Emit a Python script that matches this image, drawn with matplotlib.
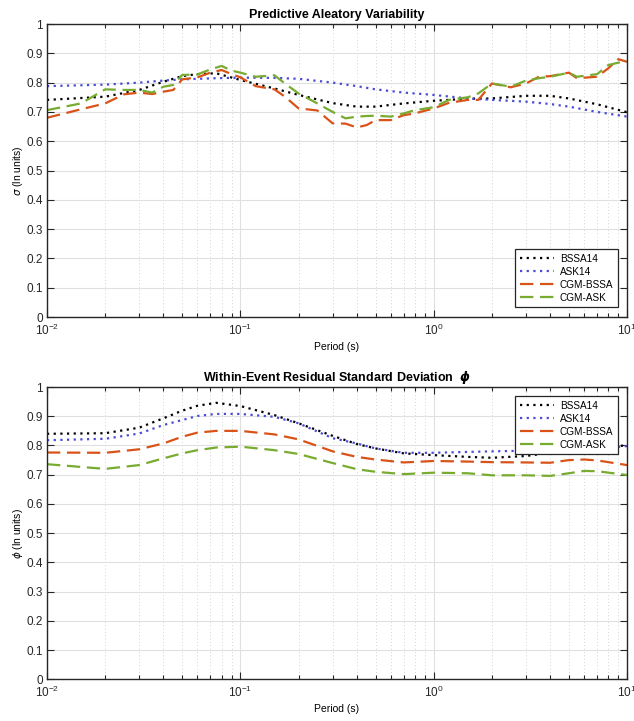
import numpy as np
import matplotlib
matplotlib.use('Agg')
import matplotlib.pyplot as plt
from matplotlib.ticker import LogLocator, NullFormatter

plt.rcParams['font.family'] = ['Liberation Sans', 'DejaVu Sans']
plt.rcParams['mathtext.fontset'] = 'dejavusans'

# ---- top panel: total sigma ----
period_top = [0.01, 0.02, 0.03, 0.04, 0.05, 0.06, 0.075, 0.1, 0.15, 0.2, 0.3,
              0.4, 0.5, 0.7, 1, 1.5, 2, 3, 4, 5, 7, 10]
bssa_sigma = [0.741, 0.752, 0.775, 0.803, 0.822, 0.829, 0.832, 0.809, 0.780, 0.758, 0.730,
              0.718, 0.718, 0.729, 0.738, 0.745, 0.746, 0.755, 0.755, 0.746, 0.726, 0.699]
ask_sigma = [0.788, 0.793, 0.800, 0.807, 0.811, 0.813, 0.815, 0.817, 0.816, 0.813, 0.800,
             0.788, 0.777, 0.766, 0.758, 0.746, 0.741, 0.735, 0.727, 0.718, 0.700, 0.684]

period_cgm = [0.01, 0.015, 0.02, 0.025, 0.03, 0.035, 0.04, 0.045, 0.05, 0.06, 0.07, 0.08,
              0.09, 0.1, 0.12, 0.15, 0.17, 0.2, 0.25, 0.3, 0.35, 0.4, 0.45, 0.5, 0.6,
              0.7, 0.8, 1, 1.2, 1.5, 1.7, 2, 2.5, 3, 3.5, 4, 5, 5.5, 7, 8, 9, 10]
cgm_bssa_sigma = [0.680, 0.709, 0.729, 0.760, 0.766, 0.761, 0.769, 0.775, 0.811, 0.818, 0.834, 0.843,
                  0.829, 0.818, 0.788, 0.777, 0.752, 0.712, 0.705, 0.661, 0.660, 0.647, 0.655, 0.672, 0.672,
                  0.689, 0.695, 0.712, 0.731, 0.741, 0.741, 0.797, 0.784, 0.797, 0.820, 0.822, 0.834, 0.815,
                  0.820, 0.849, 0.880, 0.871]
cgm_ask_sigma = [0.706, 0.729, 0.777, 0.775, 0.775, 0.766, 0.786, 0.792, 0.826, 0.828, 0.845, 0.857,
                 0.841, 0.834, 0.820, 0.825, 0.797, 0.763, 0.729, 0.700, 0.678, 0.684, 0.686, 0.687, 0.684,
                 0.695, 0.706, 0.716, 0.741, 0.750, 0.763, 0.797, 0.786, 0.807, 0.815, 0.820, 0.834, 0.820,
                 0.829, 0.860, 0.868, 0.874]

# ---- bottom panel: within-event phi ----
period_bot = [0.01, 0.02, 0.03, 0.04, 0.05, 0.06, 0.075, 0.1, 0.15, 0.2, 0.3, 0.4, 0.5,
              0.7, 1, 1.5, 2, 3, 4, 5, 6, 7, 10]
bssa_phi = [0.840, 0.842, 0.861, 0.893, 0.919, 0.936, 0.946, 0.935, 0.904, 0.876, 0.833, 0.805, 0.790,
            0.773, 0.767, 0.761, 0.758, 0.764, 0.775, 0.783, 0.790, 0.795, 0.800]
ask_phi = [0.818, 0.823, 0.841, 0.870, 0.887, 0.901, 0.908, 0.908, 0.898, 0.876, 0.825, 0.807, 0.790,
           0.775, 0.775, 0.778, 0.780, 0.782, 0.783, 0.785, 0.788, 0.790, 0.798]
cgm_bssa_phi = [0.776, 0.775, 0.787, 0.807, 0.830, 0.844, 0.850, 0.850, 0.838, 0.821, 0.780, 0.761, 0.752,
                0.742, 0.747, 0.745, 0.743, 0.742, 0.741, 0.750, 0.752, 0.749, 0.733]
cgm_ask_phi = [0.736, 0.720, 0.733, 0.756, 0.773, 0.784, 0.793, 0.796, 0.784, 0.771, 0.740, 0.719, 0.710,
               0.702, 0.707, 0.705, 0.698, 0.698, 0.696, 0.705, 0.713, 0.712, 0.699]

labels = ['BSSA14', 'ASK14', 'CGM-BSSA', 'CGM-ASK']
BLACK = 'black'
BLUE = '#4a4ad8'
ORANGE = '#D95319'
GREEN = '#77AC30'
AXCOL = '#262626'


def style_axes(ax):
    ax.set_xscale('log')
    ax.set_xlim(0.01, 10)
    ax.set_ylim(0, 1)
    ax.set_yticks(np.arange(0, 1.01, 0.1))
    ax.set_yticklabels(['0'] + ['%.1f' % v for v in np.arange(0.1, 0.95, 0.1)] + ['1'])
    ax.xaxis.set_minor_locator(LogLocator(base=10, subs=np.arange(2, 10), numticks=20))
    ax.xaxis.set_minor_formatter(NullFormatter())
    ax.tick_params(which='both', direction='in', top=True, right=True, colors=AXCOL,
                   labelsize=8.5, width=0.8)
    ax.tick_params(which='major', length=5, pad=3)
    ax.tick_params(axis='x', which='major', pad=4)
    ax.tick_params(which='minor', length=3)
    ax.tick_params(axis='y', which='minor', left=False, right=False)
    ax.grid(True, which='major', color='#e0e0e0', linewidth=0.8, linestyle='-')
    ax.grid(True, which='minor', axis='x', color='#c4c4c4', linewidth=0.6, linestyle=(0, (1, 3)))
    ax.set_axisbelow(True)
    for sp in ax.spines.values():
        sp.set_color(AXCOL)
        sp.set_linewidth(1.0)


fig = plt.figure(figsize=(6.34, 7.21), dpi=100)
ax1 = fig.add_axes([0.0741, 0.5603, 0.9150, 0.4064])
ax2 = fig.add_axes([0.0741, 0.0578, 0.9150, 0.4054])

dot_kw = dict(linestyle=(0, (1, 2)), linewidth=1.6)
dash_kw = dict(linestyle=(0, (6, 3)), linewidth=1.6)

ax1.plot(period_top, bssa_sigma, color=BLACK, label=labels[0], **dot_kw)
ax1.plot(period_top, ask_sigma, color=BLUE, label=labels[1], **dot_kw)
ax1.plot(period_cgm, cgm_bssa_sigma, color=ORANGE, label=labels[2], **dash_kw)
ax1.plot(period_cgm, cgm_ask_sigma, color=GREEN, label=labels[3], **dash_kw)
style_axes(ax1)
ax1.set_title('Predictive Aleatory Variability', fontsize=9, fontweight='bold', pad=4)
ax1.set_ylabel(r'$\sigma$ (ln units)', fontsize=7.5, labelpad=1)
ax1.set_xlabel('Period (s)', fontsize=7.5, labelpad=3)

ax2.plot(period_bot, bssa_phi, color=BLACK, label=labels[0], **dot_kw)
ax2.plot(period_bot, ask_phi, color=BLUE, label=labels[1], **dot_kw)
ax2.plot(period_bot, cgm_bssa_phi, color=ORANGE, label=labels[2], **dash_kw)
ax2.plot(period_bot, cgm_ask_phi, color=GREEN, label=labels[3], **dash_kw)
style_axes(ax2)
ax2.set_title(r'Within-Event Residual Standard Deviation  $\boldsymbol{\phi}$', fontsize=9,
              fontweight='bold', pad=4)
ax2.set_ylabel(r'$\phi$ (ln units)', fontsize=7.5, labelpad=1)
ax2.set_xlabel('Period (s)', fontsize=7.5, labelpad=3)

leg_kw = dict(fontsize=7.2, frameon=True, fancybox=False, edgecolor=AXCOL, framealpha=1,
              handlelength=3.4, handletextpad=0.6, borderpad=0.45, labelspacing=0.3,
              borderaxespad=0)
l1 = ax1.legend(loc='lower right', bbox_to_anchor=(0.984, 0.034), **leg_kw)
l2 = ax2.legend(loc='upper right', bbox_to_anchor=(0.984, 0.969), **leg_kw)
for lg in (l1, l2):
    lg.get_frame().set_linewidth(0.9)

fig.savefig('out.png', dpi=100)
